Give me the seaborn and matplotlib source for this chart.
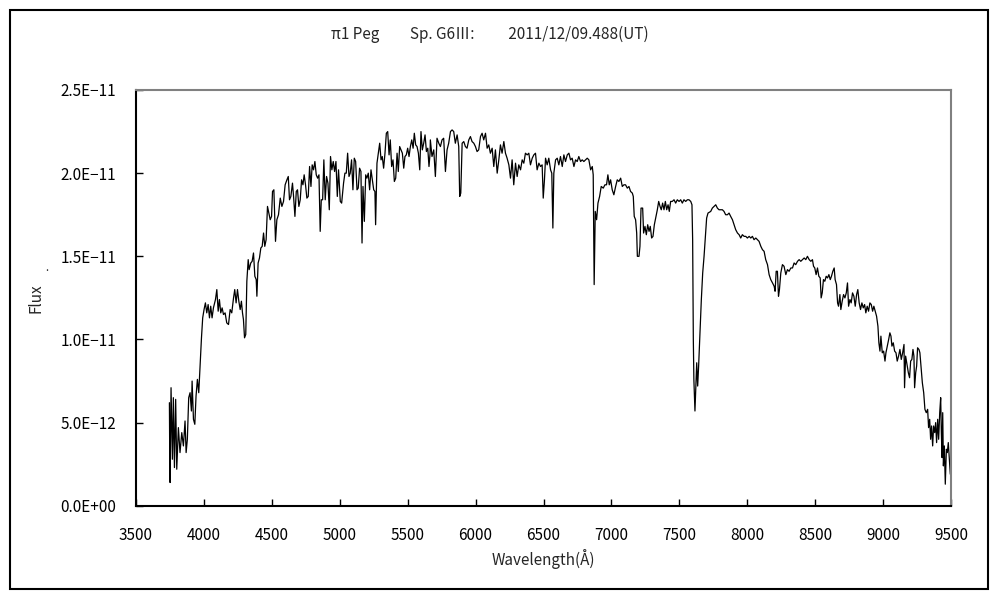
import matplotlib
matplotlib.use("Agg")
import matplotlib.pyplot as plt
import numpy as np
import pandas as pd
import seaborn as sns
from matplotlib.patches import Rectangle
from matplotlib.ticker import FuncFormatter, MultipleLocator

# spectrum: wavelength (Angstrom) and flux (x 1e-12)
wavelength = [
    3746, 3748, 3751, 3758, 3768, 3775, 3783, 3792, 3800, 3812, 3824, 3837, 3849, 3861, 3869,
    3878, 3888, 3898, 3908, 3913, 3923, 3933, 3942, 3952, 3962, 3972, 3982, 3991, 4001, 4011,
    4021, 4031, 4041, 4050, 4060, 4070, 4085, 4095, 4105, 4114, 4124, 4134, 4144, 4156, 4168,
    4181, 4193, 4205, 4218, 4227, 4237, 4247, 4257, 4267, 4276, 4284, 4291, 4299, 4308, 4316,
    4326, 4333, 4345, 4355, 4365, 4375, 4385, 4390, 4399, 4409, 4419, 4429, 4439, 4448, 4458,
    4468, 4478, 4488, 4498, 4505, 4515, 4522, 4527, 4537, 4549, 4562, 4574, 4586, 4598, 4611,
    4621, 4630, 4640, 4652, 4660, 4670, 4680, 4689, 4699, 4709, 4719, 4729, 4738, 4748, 4758,
    4768, 4778, 4788, 4797, 4807, 4817, 4827, 4837, 4847, 4856, 4864, 4874, 4883, 4893, 4903,
    4913, 4923, 4932, 4942, 4952, 4962, 4972, 4982, 4991, 5004, 5014, 5028, 5038, 5048, 5058,
    5068, 5077, 5087, 5097, 5107, 5117, 5127, 5136, 5146, 5156, 5164, 5171, 5181, 5191, 5200,
    5210, 5220, 5230, 5240, 5250, 5259, 5264, 5274, 5284, 5294, 5304, 5313, 5323, 5333, 5343,
    5353, 5363, 5372, 5382, 5392, 5402, 5412, 5422, 5431, 5441, 5451, 5461, 5471, 5480, 5490,
    5500, 5510, 5520, 5530, 5540, 5549, 5559, 5569, 5579, 5589, 5598, 5608, 5618, 5628, 5638,
    5648, 5657, 5665, 5667, 5679, 5692, 5704, 5716, 5729, 5741, 5753, 5765, 5778, 5790, 5802,
    5815, 5827, 5839, 5851, 5864, 5876, 5883, 5891, 5901, 5913, 5925, 5937, 5950, 5962, 5974,
    5987, 5999, 6011, 6023, 6036, 6048, 6060, 6073, 6085, 6097, 6109, 6122, 6134, 6146, 6159,
    6171, 6183, 6195, 6208, 6220, 6232, 6245, 6257, 6269, 6281, 6294, 6306, 6318, 6331, 6343,
    6355, 6367, 6380, 6392, 6404, 6417, 6429, 6441, 6453, 6466, 6478, 6490, 6498, 6507, 6515,
    6527, 6539, 6552, 6561, 6569, 6576, 6589, 6601, 6613, 6625, 6638, 6650, 6662, 6675, 6687,
    6699, 6711, 6724, 6736, 6748, 6760, 6773, 6785, 6797, 6810, 6822, 6834, 6847, 6859, 6866,
    6873, 6881, 6891, 6901, 6913, 6925, 6940, 6952, 6964, 6974, 6984, 6994, 7006, 7018, 7031,
    7043, 7055, 7068, 7080, 7092, 7104, 7117, 7129, 7141, 7154, 7161, 7168, 7178, 7186, 7191,
    7203, 7210, 7218, 7230, 7237, 7247, 7257, 7267, 7277, 7286, 7296, 7306, 7316, 7328, 7338,
    7348, 7358, 7367, 7377, 7387, 7397, 7407, 7417, 7426, 7436, 7448, 7461, 7473, 7485, 7498,
    7510, 7522, 7534, 7547, 7559, 7571, 7584, 7593, 7598, 7603, 7607, 7615, 7620, 7628, 7635,
    7642, 7652, 7662, 7672, 7682, 7692, 7701, 7711, 7731, 7743, 7755, 7768, 7780, 7792, 7805,
    7817, 7829, 7841, 7854, 7866, 7878, 7891, 7903, 7915, 7928, 7940, 7952, 7964, 7977, 7989,
    8001, 8014, 8026, 8038, 8050, 8063, 8075, 8087, 8100, 8112, 8124, 8136, 8149, 8161, 8173,
    8186, 8198, 8205, 8213, 8222, 8230, 8237, 8247, 8259, 8271, 8284, 8296, 8308, 8321, 8333,
    8345, 8357, 8370, 8382, 8394, 8407, 8419, 8431, 8443, 8456, 8468, 8480, 8488, 8497, 8507,
    8517, 8527, 8537, 8544, 8552, 8561, 8571, 8581, 8591, 8601, 8611, 8620, 8630, 8640, 8647,
    8657, 8665, 8672, 8682, 8689, 8699, 8709, 8719, 8729, 8738, 8746, 8756, 8765, 8775, 8785,
    8795, 8805, 8814, 8824, 8834, 8844, 8854, 8864, 8873, 8883, 8893, 8903, 8913, 8923, 8932,
    8942, 8952, 8962, 8969, 8977, 8984, 8994, 9004, 9014, 9021, 9031, 9041, 9050, 9058, 9065,
    9075, 9085, 9095, 9104, 9114, 9124, 9134, 9144, 9154, 9158, 9166, 9176, 9186, 9195, 9203,
    9212, 9220, 9227, 9232, 9240, 9247, 9254, 9264, 9271, 9279, 9289, 9299, 9308, 9318, 9328,
    9335, 9343, 9350, 9357, 9365, 9372, 9380, 9387, 9394, 9402, 9409, 9417, 9424, 9429, 9434,
    9439, 9444, 9451, 9458, 9466, 9473, 9480, 9488, 9495, 9502,
]
flux = [
    6.2, 3.4, 1.4, 7.1, 2.8, 6.5, 2.3, 6.4, 2.2, 4.7, 3.2, 4.4, 3.6, 5.1, 3.2,
    4.0, 6.5, 6.8, 5.7, 7.5, 5.2, 4.9, 6.6, 7.6, 6.8, 8.4, 10.1, 11.3, 11.8, 12.2,
    11.6, 12.1, 11.3, 12.0, 11.3, 11.9, 12.4, 13.0, 11.7, 12.4, 11.6, 11.9, 11.5, 11.6, 11.0,
    10.9, 11.8, 11.6, 12.5, 13.0, 12.2, 13.0, 12.3, 11.8, 12.3, 11.6, 11.2, 10.1, 10.3, 13.5,
    14.8, 14.2, 14.6, 14.7, 15.2, 13.8, 13.6, 12.6, 14.6, 14.9, 15.5, 15.6, 16.4, 15.6, 16.0,
    18.0, 17.6, 17.2, 17.4, 18.9, 19.0, 17.2, 15.9, 17.2, 17.5, 18.5, 18.0, 18.3, 19.3, 19.6,
    19.8, 18.4, 18.6, 19.4, 18.6, 17.4, 18.9, 19.0, 18.0, 18.4, 19.6, 19.3, 19.9, 19.3, 18.5,
    18.6, 20.4, 19.2, 20.5, 20.2, 20.7, 19.9, 19.7, 19.9, 16.5, 18.4, 18.4, 20.8, 18.4, 19.8,
    19.4, 17.8, 21.0, 20.2, 20.7, 20.1, 20.7, 18.6, 20.2, 18.3, 18.2, 19.4, 20.0, 20.0, 21.2,
    19.8, 20.0, 20.8, 19.0, 20.9, 20.7, 19.0, 19.1, 20.3, 20.1, 15.8, 19.2, 17.1, 19.9, 19.7,
    20.0, 19.0, 20.2, 19.6, 19.0, 18.9, 16.9, 20.6, 21.2, 21.8, 20.8, 21.0, 20.3, 21.2, 22.4,
    22.5, 21.1, 22.0, 20.4, 20.8, 19.5, 19.7, 21.2, 20.1, 21.6, 21.4, 21.2, 20.3, 21.0, 21.1,
    21.5, 21.0, 21.6, 22.0, 21.5, 22.4, 21.7, 21.6, 21.2, 20.2, 22.5, 21.4, 21.8, 22.3, 21.3,
    21.5, 20.4, 21.2, 22.0, 21.0, 21.4, 19.8, 22.1, 21.8, 21.6, 22.0, 22.1, 20.1, 21.4, 21.8,
    22.5, 22.6, 22.5, 21.8, 22.3, 21.6, 18.6, 18.8, 21.8, 21.9, 21.6, 21.5, 22.0, 22.2, 21.9,
    21.8, 21.6, 21.3, 21.4, 22.2, 22.4, 22.0, 22.4, 21.5, 21.7, 21.2, 21.5, 20.4, 21.4, 20.0,
    20.8, 21.7, 21.2, 21.9, 21.2, 20.9, 20.5, 19.7, 20.8, 19.3, 20.6, 19.8, 20.5, 20.2, 20.8,
    20.6, 21.2, 21.1, 21.2, 20.5, 20.9, 21.1, 21.2, 20.2, 20.6, 20.4, 20.5, 18.5, 19.6, 20.9,
    20.5, 20.9, 20.2, 20.0, 16.7, 20.0, 20.8, 20.9, 20.5, 21.0, 20.4, 21.1, 20.7, 21.1, 21.2,
    20.8, 20.9, 20.4, 20.8, 20.7, 21.0, 20.7, 20.8, 20.7, 20.8, 20.9, 20.8, 20.2, 20.4, 19.9,
    13.3, 17.7, 17.2, 18.2, 18.6, 19.2, 19.1, 19.3, 19.3, 19.9, 19.3, 19.6, 19.0, 18.7, 19.2,
    19.6, 19.5, 19.7, 19.2, 19.3, 19.3, 19.1, 19.2, 18.9, 18.8, 18.6, 17.4, 17.2, 16.4, 15.0,
    15.0, 15.6, 17.9, 17.9, 16.4, 16.8, 16.3, 16.9, 16.5, 16.8, 16.1, 16.2, 16.9, 17.4, 17.8,
    18.3, 18.0, 17.8, 18.2, 17.8, 18.3, 17.8, 18.1, 17.7, 18.3, 18.3, 18.4, 18.2, 18.4, 18.3,
    18.4, 18.2, 18.4, 18.3, 18.4, 18.4, 18.3, 18.1, 16.0, 10.0, 7.6, 5.7, 6.8, 8.6, 7.2,
    8.4, 10.4, 12.4, 14.0, 15.0, 16.2, 17.3, 17.6, 17.7, 17.9, 18.0, 18.1, 17.9, 17.8, 17.8,
    17.8, 17.7, 17.5, 17.5, 17.6, 17.4, 17.2, 16.9, 16.6, 16.4, 16.3, 16.1, 16.3, 16.2, 16.2,
    16.1, 16.2, 16.1, 16.2, 16.0, 16.1, 16.0, 15.9, 15.6, 15.4, 15.3, 14.8, 14.5, 13.9, 13.6,
    13.4, 13.2, 12.9, 14.1, 14.1, 12.6, 13.0, 14.0, 14.5, 14.4, 13.9, 14.2, 14.1, 14.3, 14.3,
    14.6, 14.5, 14.7, 14.8, 14.7, 14.8, 14.9, 14.8, 15.0, 14.8, 14.7, 14.8, 14.4, 14.3, 13.9,
    14.3, 13.8, 13.7, 12.5, 12.8, 13.6, 13.5, 13.8, 13.7, 13.9, 13.6, 13.8, 14.1, 14.3, 13.6,
    13.3, 12.2, 12.0, 12.7, 11.8, 12.3, 12.7, 12.5, 12.8, 13.4, 12.0, 12.4, 12.2, 12.8, 12.6,
    12.0, 12.7, 13.0, 12.2, 11.8, 12.2, 11.9, 12.1, 11.6, 12.0, 11.7, 12.2, 12.1, 11.7, 12.0,
    11.7, 11.4, 10.8, 9.8, 9.3, 10.2, 9.2, 9.3, 8.7, 9.2, 9.6, 10.0, 10.4, 10.2, 9.6,
    9.8, 9.3, 9.2, 8.7, 9.0, 9.4, 8.8, 9.2, 9.7, 7.1, 9.0, 8.5, 8.0, 7.7, 8.7,
    8.8, 9.4, 9.0, 7.1, 8.0, 8.4, 9.5, 9.4, 9.2, 8.4, 7.4, 6.8, 5.8, 5.6, 5.8,
    4.7, 5.2, 4.0, 4.8, 3.6, 4.8, 4.4, 5.0, 3.8, 5.2, 4.0, 5.6, 6.5, 4.4, 2.9,
    5.6, 2.4, 3.6, 1.3, 3.4, 3.2, 3.8, 2.8, 1.9, 4.2,
]

title = "π1 Peg\u3000\u3000Sp. G6Ⅲ:\u3000\u3000 2011/12/09.488(UT)"

df = pd.DataFrame({"wavelength": wavelength, "flux": np.array(flux) * 1e-12})

sns.set_style("white")
plt.rcParams["font.family"] = ["Noto Sans CJK JP", "DejaVu Sans"]

fig = plt.figure(figsize=(10, 6), dpi=100)
ax = fig.add_axes([0.136, 0.157, 0.815, 0.693])

sns.lineplot(data=df, x="wavelength", y="flux", color="black", linewidth=0.9, sort=False, ax=ax)

ax.set_xlim(3500, 9500)
ax.set_ylim(0, 2.5e-11)
ax.xaxis.set_major_locator(MultipleLocator(500))
ax.yaxis.set_major_locator(MultipleLocator(5e-12))
ax.yaxis.set_major_formatter(FuncFormatter(lambda v, _: f"{v:.1E}".replace("-", "−")))

for side in ("left", "bottom"):
    ax.spines[side].set_color("black")
    ax.spines[side].set_linewidth(1.5)
for side in ("top", "right"):
    ax.spines[side].set_color("#808080")
    ax.spines[side].set_linewidth(1.5)

ax.tick_params(axis="both", direction="in", length=5, width=1, colors="black",
               labelsize=11, left=True, bottom=True)
ax.tick_params(axis="y", pad=14)
ax.tick_params(axis="x", pad=15)

ax.set_xlabel("Wavelength(Å)", fontsize=11, labelpad=4)
ax.set_ylabel("Flux", fontsize=11, labelpad=12)
ax.text(-0.109, 0.565, ".", transform=ax.transAxes, fontsize=8, ha="center")

fig.text(0.49, 0.942, title, ha="center", va="center", fontsize=11)

fig.patches.append(Rectangle((0.010, 0.018), 0.978, 0.965, transform=fig.transFigure,
                             fill=False, edgecolor="black", linewidth=1.5))

fig.savefig("out.png", dpi=100)
